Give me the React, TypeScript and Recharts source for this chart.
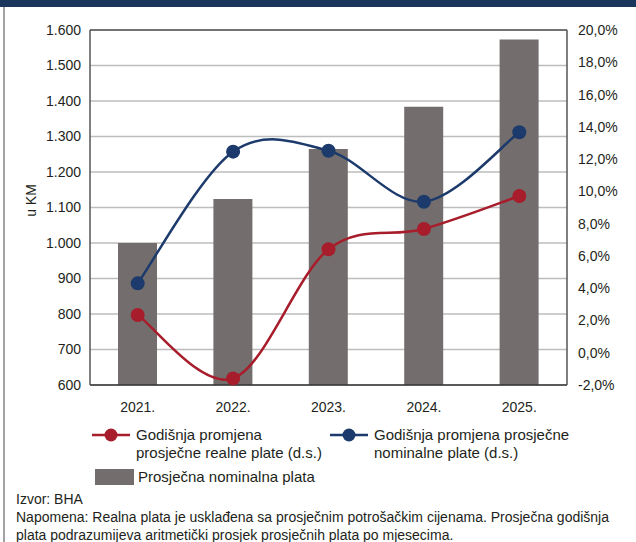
import React from 'react';
import { ComposedChart, Bar, Line, XAxis, YAxis, CartesianGrid, Legend, ReferenceLine } from 'recharts';

const years = ['2021.', '2022.', '2023.', '2024.', '2025.'];
const nominalWage = [1000, 1124, 1265, 1384, 1573];
const realChange = [2.34, -1.59, 6.41, 7.67, 9.71];
const nominalChange = [4.3, 12.46, 12.52, 9.36, 13.66];
const leftTicks = [600, 700, 800, 900, 1000, 1100, 1200, 1300, 1400, 1500, 1600];
const rightTicks = [-2, 0, 2, 4, 6, 8, 10, 12, 14, 16, 18, 20];

const wageName = 'Prosječna nominalna plata';
const realName = 'Godišnja promjena\nprosječne realne plate (d.s.)';
const nominalName = 'Godišnja promjena prosječne\nnominalne plate (d.s.)';
const yLabel = 'u KM';
const sourceText = 'Izvor: BHA';
const noteLines = [
  'Napomena: Realna plata je usklađena sa prosječnim potrošačkim cijenama. Prosječna godišnja',
  'plata podrazumijeva aritmetički prosjek prosječnih plata po mjesecima.',
];

const RED = '#a71d2b';
const BLUE = '#1c3a6b';
const GRAY = '#736e6d';
const FONT = '"Liberation Sans", Arial, sans-serif';

const data = years.map((year, i) => ({
  year,
  wage: nominalWage[i],
  real: realChange[i],
  nominal: nominalChange[i],
}));

// Excel-like smoothing (uniform Catmull-Rom converted to Bezier)
function smoothCurve(context: any) {
  let pts: number[][] = [];
  return {
    areaStart() {},
    areaEnd() {},
    lineStart() {
      pts = [];
    },
    point(x: number, y: number) {
      pts.push([+x, +y]);
    },
    lineEnd() {
      const n = pts.length;
      if (!n) return;
      context.moveTo(pts[0][0], pts[0][1]);
      for (let i = 0; i < n - 1; i++) {
        const p0 = pts[Math.max(i - 1, 0)];
        const p1 = pts[i];
        const p2 = pts[i + 1];
        const p3 = pts[Math.min(i + 2, n - 1)];
        context.bezierCurveTo(
          p1[0] + (p2[0] - p0[0]) / 6,
          p1[1] + (p2[1] - p0[1]) / 6,
          p2[0] - (p3[0] - p1[0]) / 6,
          p2[1] - (p3[1] - p1[1]) / 6,
          p2[0],
          p2[1]
        );
      }
    },
  };
}

const fmtLeft = (v: number) => (v >= 1000 ? `${Math.floor(v / 1000)}.${String(v % 1000).padStart(3, '0')}` : String(v));
const fmtRight = (v: number) => `${v.toFixed(1).replace('.', ',')}%`;

const legendPos: Record<string, { left: number; top: number }> = {
  real: { left: 92, top: 6 },
  nominal: { left: 330, top: 6 },
  wage: { left: 95, top: 48 },
};

const renderLegend = (props: any) => {
  const { payload = [] } = props;
  return (
    <div style={{ position: 'relative', width: 636, height: 80, fontFamily: FONT, fontSize: 15, color: '#231f20' }}>
      {payload.map((entry: any) => {
        const key = entry.dataKey as string;
        const pos = legendPos[key];
        if (!pos) return null;
        const isBar = key === 'wage';
        return (
          <div key={key} style={{ position: 'absolute', left: pos.left, top: pos.top, display: 'flex', alignItems: 'flex-start' }}>
            {isBar ? (
              <svg width={43} height={18} style={{ display: 'block' }}>
                <rect x={0} y={1} width={39} height={16} fill={entry.color} />
              </svg>
            ) : (
              <svg width={44} height={18} style={{ display: 'block' }}>
                <line x1={0} y1={9} x2={38} y2={9} stroke={entry.color} strokeWidth={2.5} />
                <circle cx={19} cy={9} r={6.5} fill={entry.color} />
              </svg>
            )}
            <div style={{ whiteSpace: 'pre-line', lineHeight: '18px' }}>{entry.value}</div>
          </div>
        );
      })}
    </div>
  );
};

const YLabel = (props: any) => {
  const vb = props.viewBox || {};
  const x = vb.x + 21;
  const y = vb.y + vb.height / 2 - 7;
  return (
    <text x={x} y={y} transform={`rotate(-90, ${x}, ${y})`} textAnchor="middle" dominantBaseline="central" fontFamily={FONT} fontSize={14} fill="#231f20">
      {yLabel}
    </text>
  );
};

export default function App() {
  return (
    <div style={{ position: 'fixed', left: 0, top: 0, width: 636, height: 542, background: '#fff', overflow: 'hidden' }}>
      <div style={{ position: 'absolute', left: 0, top: 0, width: 636, height: 7, background: '#1b365d' }} />
      <div style={{ position: 'absolute', left: 3, top: 7, width: 2, height: 535, background: '#a3a3a3' }} />
      <ComposedChart width={636} height={542} data={data} margin={{ top: 30, right: 9, bottom: 127, left: 10 }}>
        <CartesianGrid vertical={false} stroke="#bdbdbd" strokeWidth={1.5} />
        <XAxis
          dataKey="year"
          height={30}
          tickSize={0}
          tickMargin={17}
          tickLine={false}
          axisLine={{ stroke: '#333', strokeWidth: 1.5 }}
          tick={{ fill: '#231f20', fontSize: 14, fontFamily: FONT }}
        />
        <YAxis
          width={80}
          domain={[600, 1600]}
          ticks={leftTicks}
          tickFormatter={fmtLeft}
          tickSize={0}
          tickMargin={9}
          tickLine={false}
          axisLine={{ stroke: '#555', strokeWidth: 1.5 }}
          tick={{ fill: '#231f20', fontSize: 14, fontFamily: FONT }}
          label={{ content: <YLabel /> }}
        />
        <YAxis
          yAxisId="right"
          orientation="right"
          width={60}
          domain={[-2, 20]}
          ticks={rightTicks}
          tickFormatter={fmtRight}
          tickSize={0}
          tickMargin={11}
          tickLine={false}
          axisLine={{ stroke: '#555', strokeWidth: 1.5 }}
          tick={{ fill: '#231f20', fontSize: 14, fontFamily: FONT, textAnchor: 'start' }}
        />
        <ReferenceLine y={1600} stroke="#555" strokeWidth={1.5} />
        <Bar dataKey="wage" name={wageName} fill={GRAY} barSize={39} isAnimationActive={false} />
        <Line
          yAxisId="right"
          dataKey="real"
          name={realName}
          stroke={RED}
          strokeWidth={2.5}
          type={smoothCurve as any}
          dot={{ r: 7, fill: RED, stroke: RED, strokeWidth: 0 }}
          activeDot={false}
          isAnimationActive={false}
        />
        <Line
          yAxisId="right"
          dataKey="nominal"
          name={nominalName}
          stroke={BLUE}
          strokeWidth={2.5}
          type={smoothCurve as any}
          dot={{ r: 7, fill: BLUE, stroke: BLUE, strokeWidth: 0 }}
          activeDot={false}
          isAnimationActive={false}
        />
        <Legend
          layout="vertical"
          verticalAlign="middle"
          align="center"
          content={renderLegend}
          wrapperStyle={{ left: 0, top: 420, width: 636, height: 80 }}
        />
      </ComposedChart>
      <div style={{ position: 'absolute', left: 16, top: 490, fontFamily: FONT, fontSize: 14, lineHeight: '18px', color: '#231f20', whiteSpace: 'nowrap' }}>
        <div>{sourceText}</div>
        {noteLines.map((l) => (
          <div key={l}>{l}</div>
        ))}
      </div>
    </div>
  );
}
